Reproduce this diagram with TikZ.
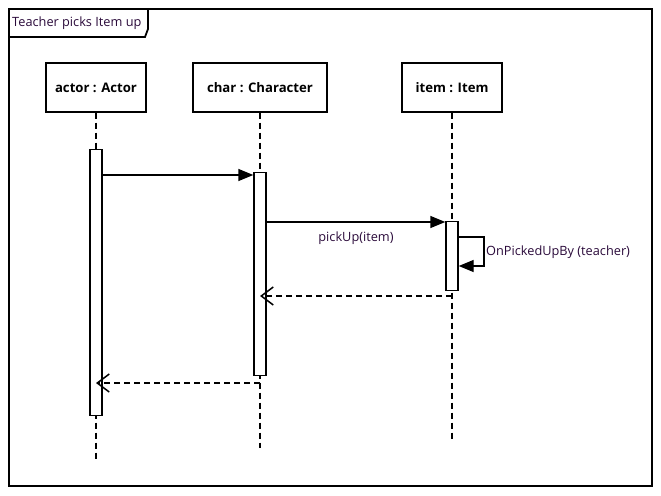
\documentclass[tikz,border=0pt]{standalone}
\usepackage{fontspec}
\setmainfont{Open Sans}
\usetikzlibrary{arrows.meta,calc}
\definecolor{ink}{HTML}{000000}
\definecolor{txt}{HTML}{2A0A3A}
\tikzset{
  frame/.style={draw=ink, line width=1.8bp},
  head/.style={draw=ink, line width=1.4bp, minimum width=100bp, minimum height=49bp, font=\fontsize{13.2}{15}\selectfont\bfseries, text=ink},
  life/.style={draw=ink, line width=1.4bp, dash pattern=on 6bp off 4bp},
  bar/.style={draw=ink, fill=white, line width=1.4bp, minimum width=12bp, inner sep=0pt},
  call/.style={draw=ink, line width=1.4bp, -{Triangle[length=15bp,width=12bp]}},
  ret/.style={draw=ink, line width=1.4bp, dash pattern=on 6bp off 4bp, -{Straight Barb[length=12bp,width=18bp,line width=1.5bp]}},
  labm/.style={font=\fontsize{12.8}{15}\selectfont, text=txt, inner sep=1bp}
}
\begin{document}
\begin{tikzpicture}[x=1bp, y=-1bp]
  \useasboundingbox (0,0) rectangle (661,496);

  % frame and title tab
  \draw[frame] (9,9) rectangle (652,486);
  \draw[frame] (9,37) -- (145,37) -- (148,29) -- (148,9);
  \node[labm, anchor=west] (title) at (11,23) {Teacher picks Item up};

  % heads
  \node[head] (actor) at (96,87.5) {actor : Actor};
  \node[head, minimum width=134bp] (char) at (260,87.5) {char : Character};
  \node[head] (item) at (452,87.5) {item : Item};

  % lifelines
  \coordinate (actorEnd) at (96,462);
  \coordinate (charEnd) at (260,448);
  \coordinate (itemEnd) at (452,442);
  \draw[life] (actor.south) -- (actorEnd);
  \draw[life] (char.south) -- (charEnd);
  \draw[life] (item.south) -- (itemEnd);

  % activations
  \node[bar, minimum height=266bp, anchor=north] (actorBar) at (96,149) {};
  \node[bar, minimum height=203bp, anchor=north] (charBar) at (260,172) {};
  \node[bar, minimum height=69bp, anchor=north] (itemBar) at (452,221) {};

  % messages
  \draw[call] (actorBar.east |- 0,175) -- (charBar.west |- 0,175);
  \draw[call] (charBar.east |- 0,222) -- (itemBar.west |- 0,222)
    node[labm, midway, below=8bp] (pick) {pickUp(item)};
  \coordinate (selfA) at (484,237);
  \coordinate (selfB) at (484,266);
  \draw[call] (itemBar.east |- selfA) -- (selfA) -- (selfB) -- (itemBar.east |- selfB);
  \node[labm, anchor=west] (picked) at (485,252) {OnPickedUpBy (teacher)};

  % returns
  \coordinate (itemRet) at (452,296);
  \coordinate (charRet) at (260,383);
  \draw[ret] (itemRet) -- (charBar.center |- itemRet);
  \draw[ret] (charRet) -- (actorBar.center |- charRet);
\end{tikzpicture}
\end{document}
